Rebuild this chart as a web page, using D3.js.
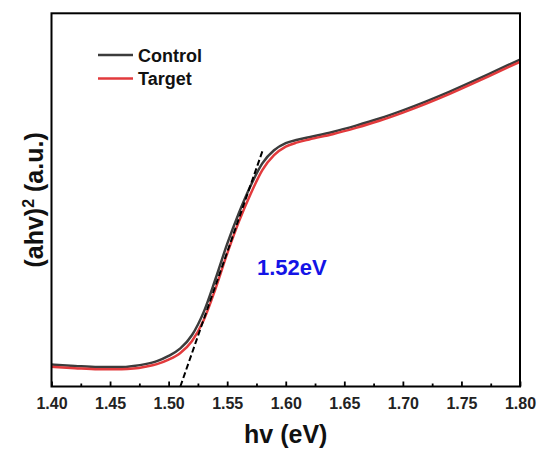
<!DOCTYPE html>
<html>
<head>
<meta charset="utf-8">
<script src="https://cdn.jsdelivr.net/npm/d3@7"></script>
<style>
  html, body { margin: 0; padding: 0; background: #fff; }
  svg { display: block; font-family: Arial, "Liberation Sans", Helvetica, sans-serif; }
</style>
</head>
<body>
<svg id="chart" width="542" height="450"></svg>
<script>
// Photon energy (eV) at which the Tauc curves are sampled
const energy = [1.40, 1.42, 1.44, 1.46, 1.47, 1.48, 1.49, 1.50, 1.51, 1.52, 1.53, 1.54, 1.55,
                1.56, 1.57, 1.58, 1.59, 1.60, 1.61, 1.62, 1.64, 1.66, 1.68, 1.70, 1.72, 1.74,
                1.76, 1.78, 1.80];
// (αhν)² in arbitrary units
const controlValues = [5.9, 5.5, 5.2, 5.2, 5.5, 6.0, 6.8, 8.2, 10.2, 13.8, 20.0, 28.8, 38.2,
                       46.5, 53.8, 59.8, 63.3, 65.2, 66.1, 66.8, 68.2, 69.9, 71.8, 74.0, 76.4, 79.0,
                       81.8, 84.7, 87.6];
const targetValues  = [5.3, 4.9, 4.6, 4.6, 4.8, 5.3, 6.0, 7.2, 9.0, 12.2, 17.8, 26.2, 35.6,
                       44.2, 51.6, 58.0, 62.0, 64.3, 65.4, 66.2, 67.6, 69.3, 71.2, 73.4, 75.8, 78.4,
                       81.2, 84.1, 87.0];
const seriesNames = ["Control", "Target"];
const seriesColors = ["#3c3c3c", "#e23a3c"];

// Linear fit of the absorption edge
const bandGap = 1.52;          // eV, quoted on the plot
const edgeSlope = 900;         // a.u. per eV
const edgeAnchor = 9.0;        // fit value at the band gap energy
const edgeEnd = 1.58;          // upper end of the drawn fit line

const xTicks = [1.40, 1.45, 1.50, 1.55, 1.60, 1.65, 1.70, 1.75, 1.80];
const xMinorTicks = [1.425, 1.475, 1.525, 1.575, 1.625, 1.675, 1.725, 1.775];

const svg = d3.select("#chart");
const frame = { left: 51.5, right: 520, top: 13.3, bottom: 386.5 };

const x = d3.scaleLinear().domain([1.40, 1.80]).range([frame.left, frame.right]);
const y = d3.scaleLinear().domain([0, 100]).range([frame.bottom, frame.top]);

const plot = svg.append("g");

// clip so the curves stay inside the frame
svg.append("defs").append("clipPath").attr("id", "frameClip")
  .append("rect").attr("x", frame.left).attr("y", frame.top)
  .attr("width", frame.right - frame.left).attr("height", frame.bottom - frame.top);

const line = d3.line()
  .x(d => x(d[0]))
  .y(d => y(d[1]))
  .curve(d3.curveMonotoneX);

const series = [controlValues, targetValues];
series.forEach((vals, i) => {
  plot.append("path")
    .attr("clip-path", "url(#frameClip)")
    .attr("d", line(energy.map((e, k) => [e, vals[k]])))
    .attr("fill", "none")
    .attr("stroke", seriesColors[i])
    .attr("stroke-width", 2.5)
    .attr("stroke-linejoin", "round");
});

// dashed linear extrapolation of the edge down to the axis
const edgeStart = bandGap - edgeAnchor / edgeSlope;
const fitPts = [edgeStart, edgeEnd].map(e => [e, edgeAnchor + edgeSlope * (e - bandGap)]);
plot.append("path")
  .attr("d", d3.line().x(d => x(d[0])).y(d => y(d[1]))(fitPts))
  .attr("fill", "none")
  .attr("stroke", "#000")
  .attr("stroke-width", 2)
  .attr("stroke-dasharray", "6,3");

// frame
svg.append("rect")
  .attr("x", frame.left).attr("y", frame.top)
  .attr("width", frame.right - frame.left).attr("height", frame.bottom - frame.top)
  .attr("fill", "none").attr("stroke", "#000").attr("stroke-width", 2);

// bottom axis: ticks point inward
const xAxis = d3.axisBottom(x)
  .tickValues(xTicks)
  .tickFormat(d3.format(".2f"))
  .tickSizeInner(-5)
  .tickSizeOuter(0)
  .tickPadding(11);
const gx = svg.append("g").attr("transform", `translate(0,${frame.bottom})`).call(xAxis);
gx.select(".domain").remove();
gx.selectAll(".tick line").attr("stroke", "#000").attr("stroke-width", 1.8);
gx.selectAll(".tick text")
  .attr("fill", "#222")
  .style("font-size", "16px")
  .style("font-weight", "bold")
  .style("font-family", "Arial, 'Liberation Sans', sans-serif");

const gMinor = svg.append("g").attr("transform", `translate(0,${frame.bottom})`)
  .call(d3.axisBottom(x).tickValues(xMinorTicks).tickFormat("").tickSizeInner(-3).tickSizeOuter(0));
gMinor.select(".domain").remove();
gMinor.selectAll(".tick line").attr("stroke", "#000").attr("stroke-width", 1.8);

// axis titles
svg.append("text")
  .attr("x", (frame.left + frame.right) / 2).attr("y", 443)
  .attr("text-anchor", "middle")
  .style("font-size", "25px").style("font-weight", "bold").attr("fill", "#111")
  .text("hv (eV)");

const yt = svg.append("text")
  .attr("transform", `translate(43,${(frame.top + frame.bottom) / 2}) rotate(-90)`)
  .attr("text-anchor", "middle")
  .style("font-size", "25px").style("font-weight", "bold").attr("fill", "#111");
yt.append("tspan").text("(ahv)");
yt.append("tspan").attr("dy", -9).style("font-size", "16px").text("2");
yt.append("tspan").attr("dy", 9).text(" (a.u.)");

// band gap annotation
svg.append("text")
  .attr("x", 257).attr("y", 275)
  .style("font-size", "22px").style("font-weight", "bold").attr("fill", "#1414e6")
  .text(`${bandGap.toFixed(2)}eV`);

// legend
const legend = svg.append("g");
seriesNames.forEach((name, i) => {
  const ly = 55 + i * 23.5;
  legend.append("line")
    .attr("x1", 98).attr("x2", 133).attr("y1", ly).attr("y2", ly)
    .attr("stroke", seriesColors[i]).attr("stroke-width", 2.5);
  legend.append("text")
    .attr("x", 138).attr("y", ly + 6.5)
    .style("font-size", "18px").style("font-weight", "bold").attr("fill", "#111")
    .text(name);
});
</script>
</body>
</html>
